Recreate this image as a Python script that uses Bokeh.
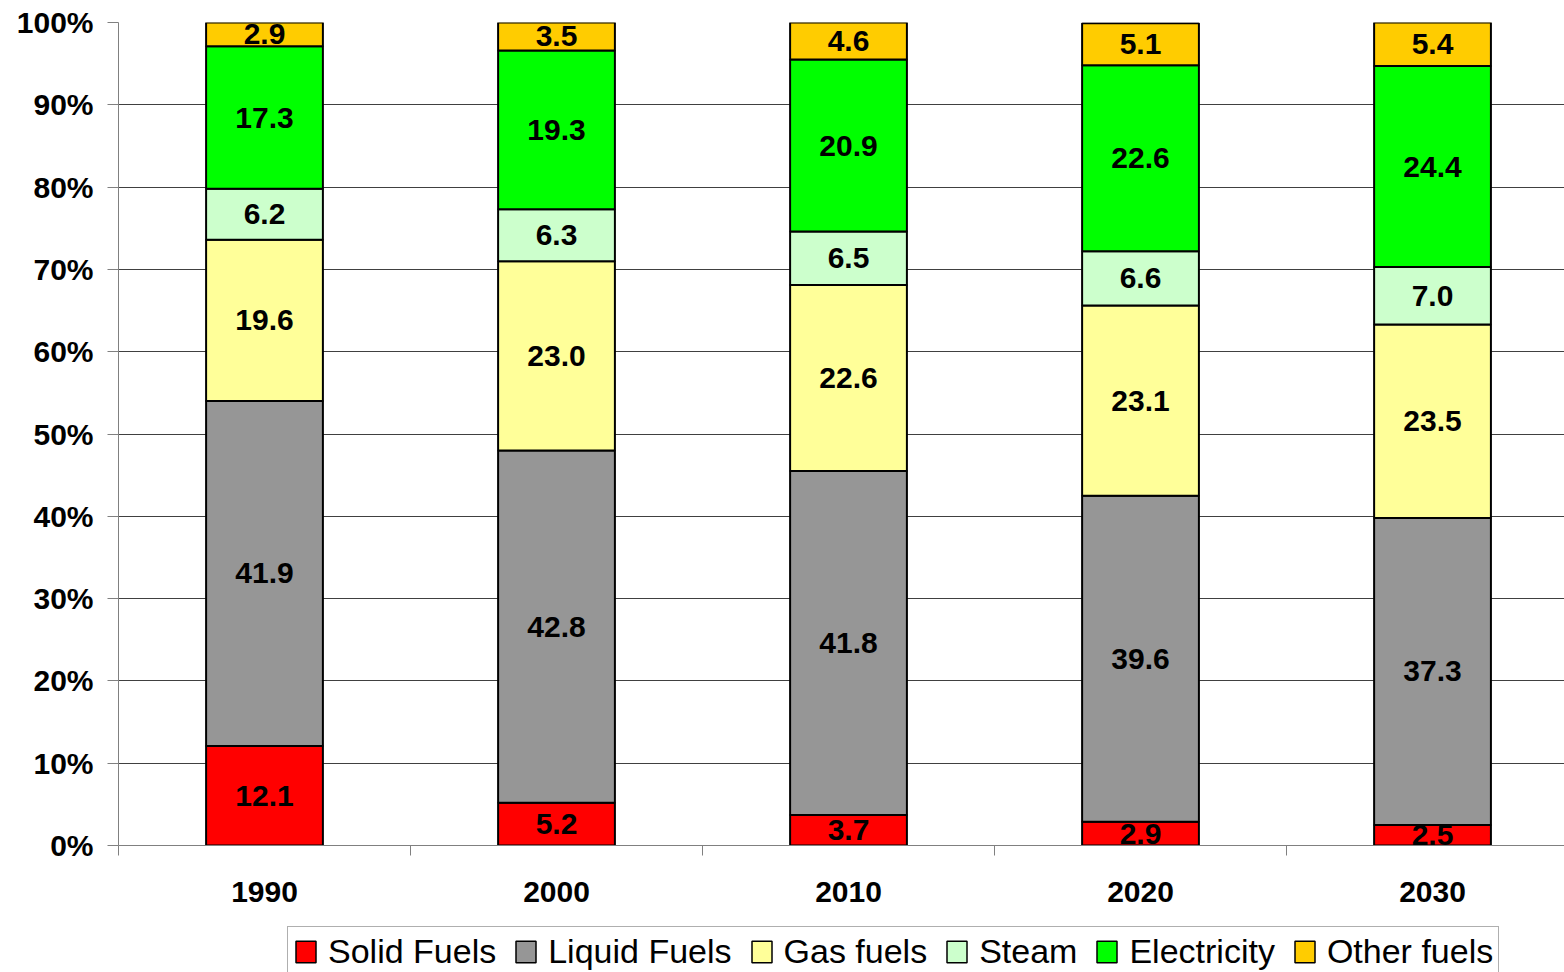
import numpy as np
from bokeh.plotting import figure
from bokeh.layouts import column
from bokeh.models import Range1d, FixedTicker, Legend, LegendItem, ColumnDataSource
from bokeh.core.properties import value
from bokeh.embed import file_html
from bokeh.resources import INLINE

years = ["1990", "2000", "2010", "2020", "2030"]
series = ["Solid Fuels", "Liquid Fuels", "Gas fuels", "Steam", "Electricity", "Other fuels"]
solid = [12.1, 5.2, 3.7, 2.9, 2.5]
liquid = [41.9, 42.8, 41.8, 39.6, 37.3]
gas = [19.6, 23.0, 22.6, 23.1, 23.5]
steam = [6.2, 6.3, 6.5, 6.6, 7.0]
electricity = [17.3, 19.3, 20.9, 22.6, 24.4]
other = [2.9, 3.5, 4.6, 5.1, 5.4]
colors = ["#FF0000", "#969696", "#FFFF99", "#CCFFCC", "#00FF00", "#FFCC00"]
yticks = [0, 10, 20, 30, 40, 50, 60, 70, 80, 90, 100]

FONT = "Liberation Sans"
vals = [solid, liquid, gas, steam, electricity, other]
xs = np.arange(len(years)) + 0.5

W = 1564
LEFT = 118
p = figure(width=W, height=925, output_backend="svg", toolbar_location=None,
           x_range=Range1d(0, len(years) - 0.048), y_range=Range1d(0, 100),
           min_border_left=LEFT, min_border_right=0, min_border_top=22, min_border_bottom=80)
p.outline_line_color = None
p.background_fill_color = "white"
p.border_fill_color = "white"

data = {"x": xs}
for name, v in zip(series, vals):
    data[name] = v
src = ColumnDataSource(data)
renderers = p.vbar_stack(series, x="x", width=0.40, source=src, fill_color=colors,
                         line_color="black", line_width=2)

# labels
bottom = np.zeros(len(years))
lx, ly, lt = [], [], []
for v in vals:
    v = np.array(v)
    for i in range(len(years)):
        lx.append(xs[i]); ly.append(bottom[i] + v[i] / 2); lt.append(f"{v[i]:.1f}")
    bottom += v
p.text(x=lx, y=ly, text=lt, text_align="center", text_baseline="middle",
       text_font=value(FONT), text_font_style="bold", text_font_size="30px", text_color="black")

# axes
p.yaxis.ticker = FixedTicker(ticks=yticks)
p.yaxis.major_label_overrides = {t: f"{t}%" for t in yticks}
p.yaxis.major_label_text_font = FONT
p.yaxis.major_label_text_font_style = "bold"
p.yaxis.major_label_text_font_size = "30px"
p.yaxis.major_label_text_color = "black"
p.yaxis.major_label_standoff = 14
p.yaxis.major_tick_in = 0
p.yaxis.major_tick_out = 11
p.yaxis.minor_tick_line_color = None
p.yaxis.axis_line_color = "#808080"
p.yaxis.major_tick_line_color = "#808080"

p.xaxis.ticker = FixedTicker(ticks=list(xs), minor_ticks=list(range(len(years) + 1)))
p.xaxis.major_label_overrides = {float(x): y for x, y in zip(xs, years)}
p.xaxis.major_label_text_font = FONT
p.xaxis.major_label_text_font_style = "bold"
p.xaxis.major_label_text_font_size = "30px"
p.xaxis.major_label_text_color = "black"
p.xaxis.major_label_standoff = 26
p.xaxis.major_tick_in = 0
p.xaxis.major_tick_out = 0
p.xaxis.minor_tick_in = 0
p.xaxis.minor_tick_out = 10
p.xaxis.minor_tick_line_color = "#808080"
p.xaxis.axis_line_color = "#808080"

p.xgrid.grid_line_color = None
p.ygrid.grid_line_color = "#404040"
p.ygrid.grid_line_width = 1

# legend strip below the chart
LH = 47
p2 = figure(width=W, height=LH, output_backend="svg", toolbar_location=None,
            x_range=Range1d(0, W), y_range=Range1d(0, LH),
            min_border_left=0, min_border_right=0, min_border_top=0, min_border_bottom=0)
p2.axis.visible = False
p2.grid.visible = False
p2.outline_line_color = None
p2.border_fill_color = "white"
legend_rs = [p2.vbar(x=[np.nan], top=[np.nan], width=1, fill_color=c, line_color="black",
                     line_width=1.5) for c in colors]
items = [LegendItem(label=s, renderers=[r]) for s, r in zip(series, legend_rs)]
legend = Legend(items=items, orientation="horizontal", location=(287 - LEFT, -5),
                label_text_font=FONT, label_text_font_size="34px", label_text_color="black",
                glyph_width=25, glyph_height=27, label_standoff=10, spacing=17,
                padding=5, margin=0, border_line_color="#606060", border_line_width=1,
                background_fill_color="white", background_fill_alpha=1)
p2.add_layout(legend, "center")

layout = column(p, p2, spacing=0)
open("out.html", "w").write(file_html(layout, INLINE))
